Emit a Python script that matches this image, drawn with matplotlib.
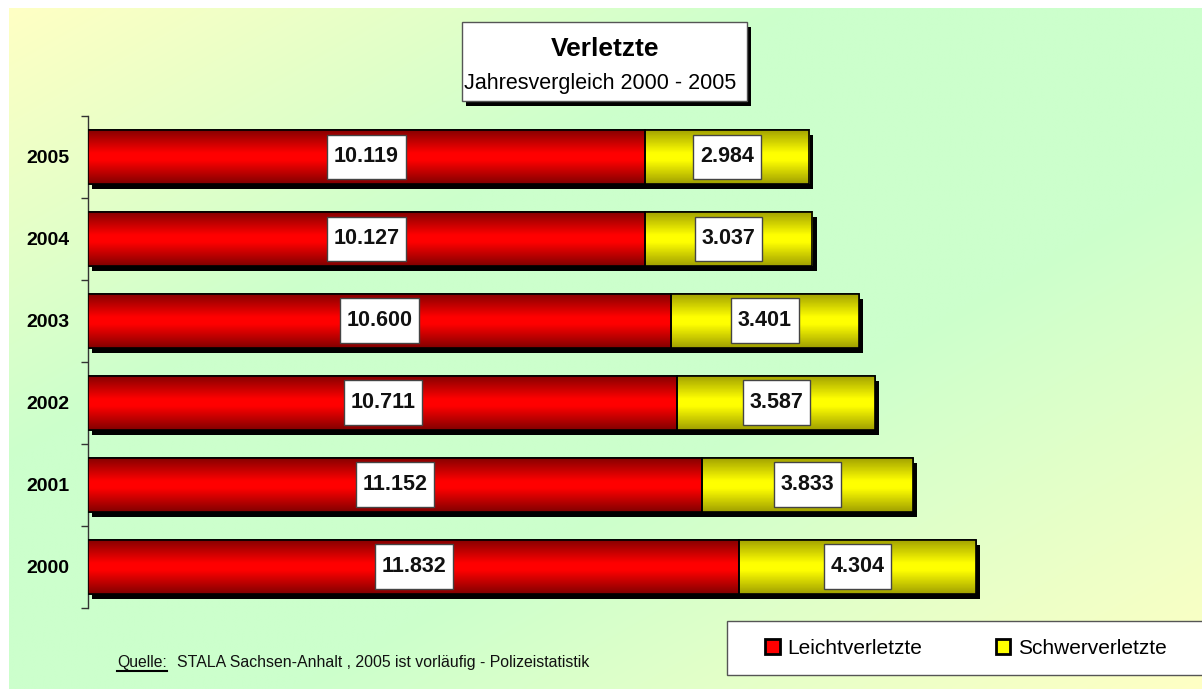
import numpy as np
import matplotlib
matplotlib.use("Agg")
import matplotlib.pyplot as plt
from matplotlib.patches import Rectangle, Patch
from matplotlib.lines import Line2D
from matplotlib.path import Path
import matplotlib.patheffects as pe

plt.rcParams['font.family'] = ['Liberation Sans', 'DejaVu Sans']

# ---------------- data ----------------
years = ['2000', '2001', '2002', '2003', '2004', '2005']
leicht = [11832, 11152, 10711, 10600, 10127, 10119]
schwer = [4304, 3833, 3587, 3401, 3037, 2984]
series_names = ['Leichtverletzte', 'Schwerverletzte']
title = 'Verletzte'
subtitle = 'Jahresvergleich 2000 - 2005'
source_label = 'Quelle:'
source_text = 'STALA Sachsen-Anhalt , 2005 ist vorläufig - Polizeistatistik'

W, H = 1202, 689
fig = plt.figure(figsize=(W / 100, H / 100), dpi=100)
fig.patch.set_facecolor('white')


def fx(x):
    return x / W


def fy(y):
    return 1 - y / H


# ---------------- background gradient ----------------
bg = fig.add_axes([0, 0, 1, 1], zorder=-5)
bg.set_xlim(0, W)
bg.set_ylim(H, 0)
bg.axis('off')
gx = np.linspace(0, 1, 300)
gy = np.linspace(0, 1, 200)
GX, GY = np.meshgrid(gx, gy)
T = (GX + GY) / 2
yel = np.array([255, 255, 196]) / 255
grn = np.array([204, 255, 204]) / 255
w = np.interp(T, [0, 0.33, 0.62, 1.0], [1.0, 0.0, 0.0, 1.0])
img = grn[None, None, :] + (yel - grn)[None, None, :] * w[..., None]
bg.imshow(img, extent=[9, W, H, 8], aspect='auto', interpolation='bilinear')

# ---------------- main axes ----------------
left_px, top_px, bot_px = 88, 116, 607.5
px_per_unit = 888 / 16136
xmax = 20000
ax = fig.add_axes([fx(left_px), fy(bot_px), xmax * px_per_unit / W, (bot_px - top_px) / H])
ax.set_facecolor('none')
ax.set_xlim(0, xmax)
ax.set_ylim(-0.5, len(years) - 0.5)

ypos = np.arange(len(years))
bh = 0.66


def gradient(dark, bright, n=96):
    t = np.linspace(0, 1, n)
    v = 1 - np.abs(2 * t - 1)
    v = np.clip(v * 1.15, 0, 1)
    dark = np.array(dark) / 255
    bright = np.array(bright) / 255
    return (dark[None, :] + (bright - dark)[None, :] * v[:, None])[:, None, :]


grad_red = gradient((130, 0, 0), (255, 0, 0))
grad_yel = gradient((160, 160, 0), (255, 255, 0))

shadow = [pe.SimplePatchShadow(offset=(3, -3.6), shadow_rgbFace='black', alpha=1.0), pe.Normal()]

bars_r = ax.barh(ypos, leicht, height=bh, color='red', edgecolor='black', linewidth=1.2, zorder=2)
bars_y = ax.barh(ypos, schwer, left=leicht, height=bh, color='yellow', edgecolor='black', linewidth=1.2, zorder=2)
for b in list(bars_r) + list(bars_y):
    b.set_path_effects(shadow)

for bars, grad in ((bars_r, grad_red), (bars_y, grad_yel)):
    for b in bars:
        x0, y0 = b.get_x(), b.get_y()
        im = ax.imshow(grad, extent=[x0, x0 + b.get_width(), y0, y0 + b.get_height()],
                       aspect='auto', interpolation='bilinear', zorder=2.5)
        im.set_clip_path(b)
ax.set_xlim(0, xmax)
ax.set_ylim(-0.5, len(years) - 0.5)
# outlines on top
ax.barh(ypos, leicht, height=bh, facecolor='none', edgecolor='black', linewidth=1.2, zorder=3)
ax.barh(ypos, schwer, left=leicht, height=bh, facecolor='none', edgecolor='black', linewidth=1.2, zorder=3)


def label_box(x0, y0, width, height, mutation_size):
    padx = 0.31 * mutation_size
    pady = 0.55 * mutation_size
    xa, ya = x0 - padx, y0 - pady
    xb, yb = x0 + width + padx, y0 + height + pady
    return Path([(xa, ya), (xb, ya), (xb, yb), (xa, yb), (xa, ya)], closed=True)


def fmt(v):
    return f"{v:,}".replace(',', '.')


for bars in (bars_r, bars_y):
    for b in bars:
        cx = b.get_x() + b.get_width() / 2
        cy = b.get_y() + b.get_height() / 2
        ax.text(cx, cy, fmt(int(round(b.get_width()))), ha='center', va='center',
                fontsize=15.5, fontweight='bold', color='#111111', zorder=4,
                bbox=dict(boxstyle=label_box, facecolor='white', edgecolor='#444444', linewidth=1))

# axes styling
for s in ('top', 'right', 'bottom'):
    ax.spines[s].set_visible(False)
ax.spines['left'].set_color('#333333')
ax.spines['left'].set_linewidth(1)
ax.spines['left'].set_zorder(1)
ax.set_xticks([])
ax.set_yticks(np.arange(-0.5, len(years), 1.0))
ax.set_yticklabels([])
ax.tick_params(axis='y', which='major', length=5, width=1, color='#333333', direction='out')
ax.set_yticks(ypos, minor=True)
ax.set_yticklabels(years, minor=True, fontsize=14, fontweight='bold')
ax.tick_params(axis='y', which='minor', length=0, pad=13.5)

# ---------------- title box ----------------
tb = Rectangle((fx(462), fy(101)), fx(747) - fx(462), fy(22) - fy(101), transform=fig.transFigure,
               facecolor='white', edgecolor='#555555', linewidth=1, zorder=5)
tb.set_path_effects([pe.SimplePatchShadow(offset=(3, -3.6), shadow_rgbFace='black', alpha=1.0), pe.Normal()])
fig.add_artist(tb)
fig.text(fx(605), fy(56), title, ha='center', va='baseline', fontsize=19, fontweight='bold', zorder=6)
fig.text(fx(600), fy(89), subtitle, ha='center', va='baseline', fontsize=15.5, zorder=6)

# ---------------- legend ----------------
lb = Rectangle((fx(727), fy(675)), fx(1210) - fx(727), fy(621) - fy(675), transform=fig.transFigure,
               facecolor='white', edgecolor='#555555', linewidth=1, zorder=5)
fig.add_artist(lb)
handles = [Patch(facecolor='red', edgecolor='black', linewidth=2),
           Patch(facecolor='yellow', edgecolor='black', linewidth=2)]
leg = fig.legend(handles, series_names, loc='center left', bbox_to_anchor=(fx(765), fy(648)),
                 ncol=2, frameon=False, fontsize=15.0, handlelength=0.7, handleheight=0.7,
                 handletextpad=0.35, columnspacing=3.55, borderpad=0, borderaxespad=0)
leg.set_zorder(6)

# ---------------- source ----------------
q = fig.text(fx(117), fy(667), source_label, ha='left', va='baseline', fontsize=11.3, color='#111111')
fig.text(fx(177), fy(667), source_text, ha='left', va='baseline', fontsize=11.4, color='#111111')
fig.canvas.draw()
ext = q.get_window_extent()
fig.add_artist(Line2D([ext.x0 / W, ext.x1 / W], [fy(671), fy(671)], transform=fig.transFigure,
                      color='black', linewidth=1.5))

fig.savefig('out.png', dpi=100)
